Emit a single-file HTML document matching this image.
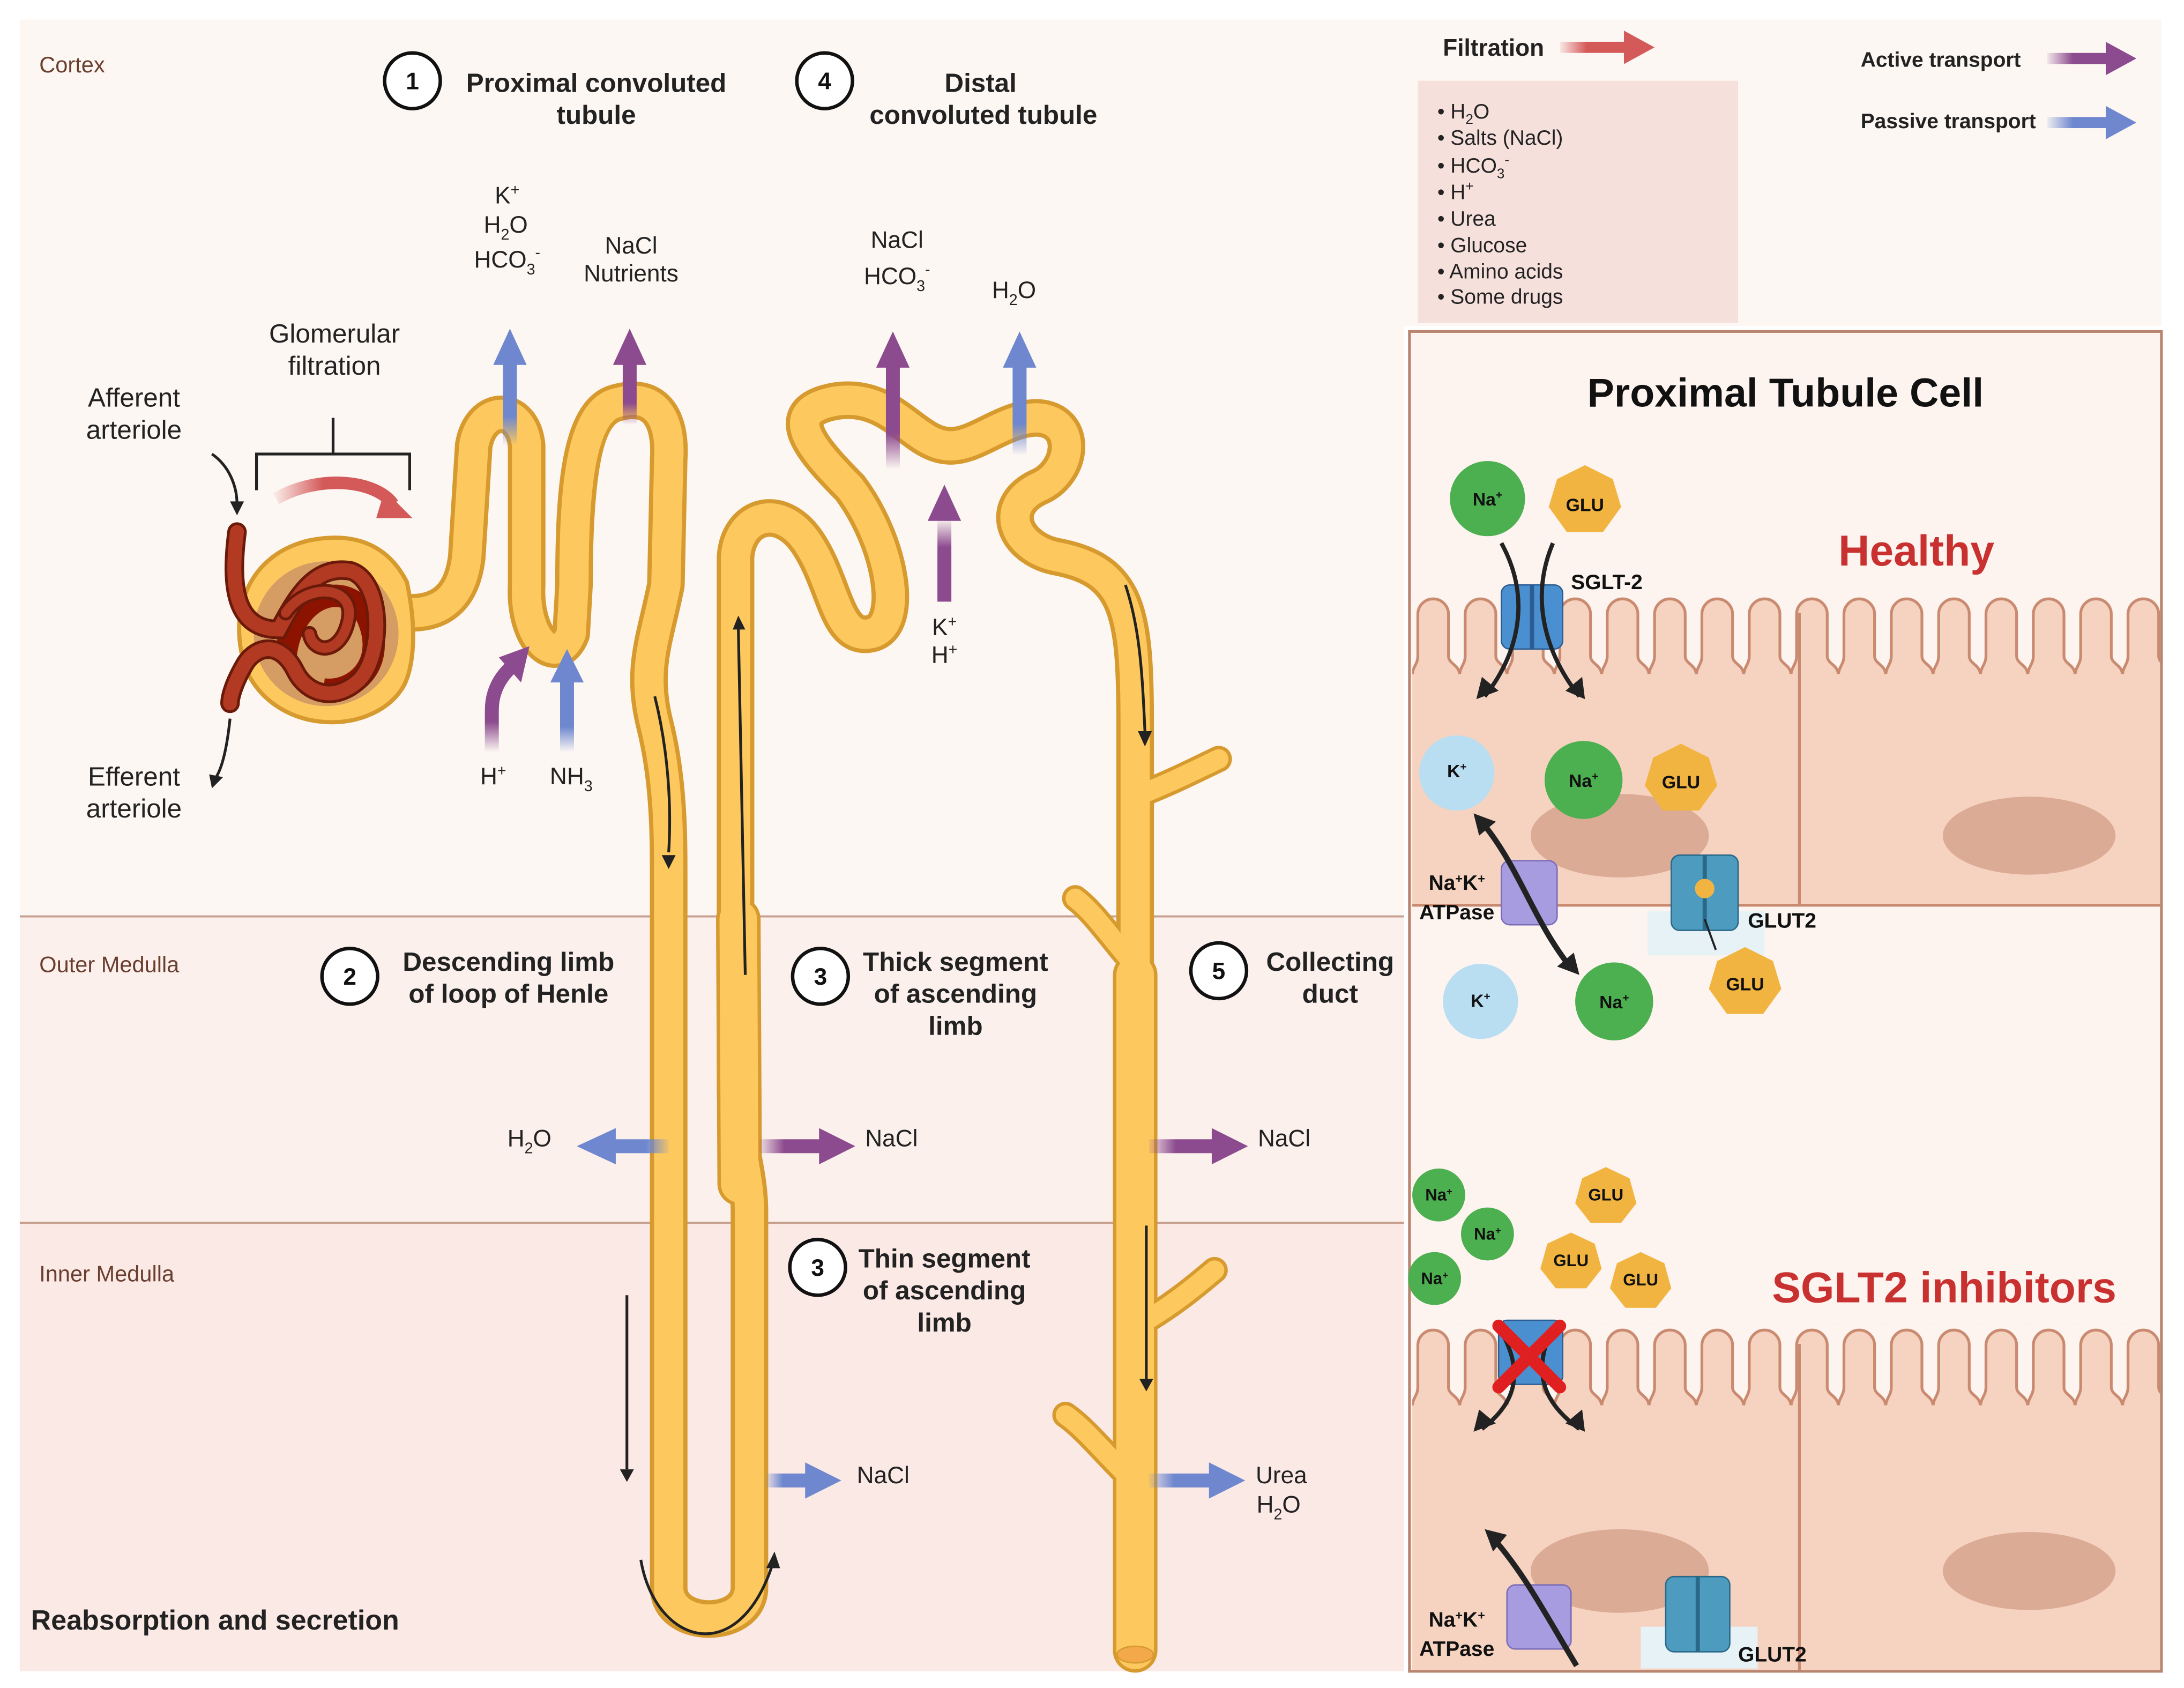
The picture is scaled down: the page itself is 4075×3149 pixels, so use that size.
<!DOCTYPE html>
<html><head><meta charset="utf-8"><style>
html,body{margin:0;padding:0;background:#fff;}
svg{display:block;}
text{font-family:"Liberation Sans",sans-serif;}
</style></head><body>
<svg width="4075" height="3149" viewBox="0 0 1568 1212" xmlns="http://www.w3.org/2000/svg">
<defs>
<linearGradient id="gb" x1="0" y1="1" x2="0" y2="0"><stop offset="0" stop-color="#6e87cf" stop-opacity="0"/><stop offset="0.35" stop-color="#6e87cf"/></linearGradient>
<linearGradient id="gp" x1="0" y1="1" x2="0" y2="0"><stop offset="0" stop-color="#8c4b8e" stop-opacity="0"/><stop offset="0.35" stop-color="#8c4b8e"/></linearGradient>
<linearGradient id="gbh" x1="0" y1="0" x2="1" y2="0"><stop offset="0" stop-color="#6e87cf" stop-opacity="0.1"/><stop offset="0.4" stop-color="#6e87cf"/></linearGradient>
<linearGradient id="gbl" x1="1" y1="0" x2="0" y2="0"><stop offset="0" stop-color="#6e87cf" stop-opacity="0.1"/><stop offset="0.4" stop-color="#6e87cf"/></linearGradient>
<linearGradient id="gph" x1="0" y1="0" x2="1" y2="0"><stop offset="0" stop-color="#8c4b8e" stop-opacity="0.1"/><stop offset="0.4" stop-color="#8c4b8e"/></linearGradient>
<linearGradient id="grh" x1="0" y1="0" x2="1" y2="0"><stop offset="0" stop-color="#d45a5a" stop-opacity="0.1"/><stop offset="0.4" stop-color="#d45a5a"/></linearGradient>
<pattern id="mv" x="1014" y="425" width="34" height="60" patternUnits="userSpaceOnUse">
<path d="M0 60 C0 54 4 52 4 46 V16 a11 11 0 0 1 22 0 V46 C26 52 34 52 34 60 Z" fill="#f5d3c0"/>
<path d="M0 60 C0 54 4 52 4 46 V16 a11 11 0 0 1 22 0 V46 C26 52 34 52 34 60" fill="none" stroke="#c98a70" stroke-width="2"/>
</pattern>
<pattern id="mv2" x="1014" y="950" width="34" height="60" patternUnits="userSpaceOnUse">
<path d="M0 60 C0 54 4 52 4 46 V16 a11 11 0 0 1 22 0 V46 C26 52 34 52 34 60 Z" fill="#f5d3c0"/>
<path d="M0 60 C0 54 4 52 4 46 V16 a11 11 0 0 1 22 0 V46 C26 52 34 52 34 60" fill="none" stroke="#c98a70" stroke-width="2"/>
</pattern>
</defs>

<rect x="14" y="14" width="994" height="644" fill="#fdf7f3"/>
<rect x="14" y="658" width="994" height="220" fill="#fbf0ec"/>
<rect x="14" y="878" width="994" height="322" fill="#fbe9e6"/>
<line x1="14" y1="658" x2="1008" y2="658" stroke="#c7a090" stroke-width="1.5"/>
<line x1="14" y1="878" x2="1008" y2="878" stroke="#c7a090" stroke-width="1.5"/>
<text x="28" y="52" font-size="16" fill="#6a3e2e">Cortex</text>
<text x="28" y="698" font-size="16" fill="#6a3e2e">Outer Medulla</text>
<text x="28" y="920" font-size="16" fill="#6a3e2e">Inner Medulla</text>
<text x="22" y="1170" font-size="20" font-weight="bold" fill="#222">Reabsorption and secretion</text>

<rect x="1008" y="14" width="544" height="220" fill="#fdf7f3"/>
<rect x="1018" y="58" width="230" height="174" fill="#f6e0dc"/>
<text x="1036" y="40" font-size="17" font-weight="bold" fill="#222">Filtration</text>
<rect x="1120" y="30" width="48" height="8" fill="url(#grh)"/><polygon points="1166,22 1188,34 1166,46" fill="#d45a5a"/>
<text x="1336" y="48" font-size="15" font-weight="bold" fill="#222">Active transport</text>
<rect x="1470" y="38" width="46" height="8" fill="url(#gph)"/><polygon points="1512,30 1534,42 1512,54" fill="#8c4b8e"/>
<text x="1336" y="92" font-size="15" font-weight="bold" fill="#222">Passive transport</text>
<rect x="1470" y="84" width="46" height="8" fill="url(#gbh)"/><polygon points="1512,76 1534,88 1512,100" fill="#6e87cf"/>
<g font-size="15" fill="#222">
<text x="1032" y="85">• H<tspan font-size="10" dy="4">2</tspan><tspan dy="-4">O</tspan></text>
<text x="1032" y="104">• Salts (NaCl)</text>
<text x="1032" y="124">• HCO<tspan font-size="10" dy="4">3</tspan><tspan font-size="10" dy="-10">-</tspan></text>
<text x="1032" y="143">• H<tspan font-size="10" dy="-6">+</tspan></text>
<text x="1032" y="162">• Urea</text>
<text x="1032" y="181">• Glucose</text>
<text x="1032" y="200">• Amino acids</text>
<text x="1032" y="218">• Some drugs</text>
</g>

<rect x="1012" y="238" width="540" height="962" fill="#fdf4f0" stroke="#b98570" stroke-width="2"/>
<text x="1282" y="292" font-size="29" font-weight="bold" text-anchor="middle" fill="#111">Proximal Tubule Cell</text>
<rect x="1014" y="425" width="537" height="60" fill="url(#mv)"/>
<rect x="1014" y="484" width="537" height="166" fill="#f5d3c0"/>
<line x1="1014" y1="650" x2="1551" y2="650" stroke="#c98a70" stroke-width="2"/>
<line x1="1292" y1="440" x2="1292" y2="650" stroke="#c98a70" stroke-width="2"/>
<ellipse cx="1163" cy="600" rx="64" ry="30" fill="#dcab95"/>
<ellipse cx="1457" cy="600" rx="62" ry="28" fill="#dcab95"/>
<rect x="1014" y="950" width="537" height="60" fill="url(#mv2)"/>
<rect x="1014" y="1009" width="537" height="190" fill="#f5d3c0"/>
<line x1="1292" y1="965" x2="1292" y2="1199" stroke="#c98a70" stroke-width="2"/>
<ellipse cx="1163" cy="1128" rx="64" ry="30" fill="#dcab95"/>
<ellipse cx="1457" cy="1128" rx="62" ry="28" fill="#dcab95"/>
<text x="1376" y="406" font-size="31" font-weight="bold" text-anchor="middle" fill="#c8312f">Healthy</text>
<text x="1396" y="935" font-size="31" font-weight="bold" text-anchor="middle" fill="#c8312f">SGLT2 inhibitors</text>

<rect x="1078" y="420" width="44" height="46" rx="6" fill="#4a90d0" stroke="#2c5d92"/>
<line x1="1100" y1="420" x2="1100" y2="466" stroke="#2c5d92" stroke-width="3"/>
<path d="M1078 390 C1100 430 1090 470 1066 500" fill="none" stroke="#222" stroke-width="3"/>
<polygon points="1060,502 1064,486 1076,496" fill="#222"/>
<path d="M1115 390 C1098 430 1110 470 1134 500" fill="none" stroke="#222" stroke-width="3"/>
<polygon points="1138,502 1124,496 1136,486" fill="#222"/>
<rect x="1078" y="618" width="40" height="46" rx="6" fill="#a89ce0" stroke="#7a6cb8"/>
<path d="M1062 588 C1090 620 1100 660 1128 695" fill="none" stroke="#222" stroke-width="4"/>
<polygon points="1134,700 1118,694 1130,684" fill="#222"/><polygon points="1058,584 1074,590 1062,600" fill="#222"/>
<rect x="1183" y="654" width="84" height="32" fill="#e6f2f6"/>
<rect x="1200" y="614" width="48" height="54" rx="6" fill="#4d9cc0" stroke="#2a6888"/>
<line x1="1224" y1="614" x2="1224" y2="668" stroke="#2a6888" stroke-width="3"/>
<circle cx="1224" cy="638" r="7" fill="#f2b440"/>
<path d="M1224 660 L1232 682" stroke="#222" stroke-width="1.5"/>

<rect x="1076" y="948" width="46" height="46" rx="6" fill="#4a90d0" stroke="#2c5d92"/>
<path d="M1080 960 C1095 990 1085 1010 1064 1026" fill="none" stroke="#222" stroke-width="3"/>
<polygon points="1058,1028 1062,1012 1074,1022" fill="#222"/>
<path d="M1112 960 C1100 990 1112 1010 1134 1026" fill="none" stroke="#222" stroke-width="3"/>
<polygon points="1138,1028 1124,1022 1136,1012" fill="#222"/>
<path d="M1076 952 L1120 996 M1120 952 L1076 996" stroke="#e02020" stroke-width="9" stroke-linecap="round"/>
<rect x="1082" y="1138" width="46" height="46" rx="6" fill="#a89ce0" stroke="#7a6cb8"/>
<path d="M1070 1102 C1095 1130 1110 1160 1132 1196" fill="none" stroke="#222" stroke-width="4"/>
<polygon points="1066,1098 1082,1102 1072,1114" fill="#222"/>
<rect x="1178" y="1168" width="84" height="30" fill="#e6f2f6"/>
<rect x="1196" y="1132" width="46" height="54" rx="6" fill="#4d9cc0" stroke="#2a6888"/>
<line x1="1219" y1="1132" x2="1219" y2="1186" stroke="#2a6888" stroke-width="3"/>

<g font-size="13" font-weight="bold" text-anchor="middle" fill="#111">
<circle cx="1068" cy="358" r="27" fill="#4caf50"/><text x="1068" y="363">Na<tspan font-size="8" dy="-5">+</tspan></text>
<polygon points="1138,334 1158,344 1164,364 1151,382 1125,382 1112,364 1118,344" fill="#f2b440"/><text x="1138" y="367">GLU</text>
<circle cx="1046" cy="555" r="27" fill="#b9def2"/><text x="1046" y="558">K<tspan font-size="8" dy="-5">+</tspan></text>
<circle cx="1137" cy="560" r="28" fill="#4caf50"/><text x="1137" y="565">Na<tspan font-size="8" dy="-5">+</tspan></text>
<polygon points="1207,534 1227,544 1233,564 1220,582 1194,582 1181,564 1187,544" fill="#f2b440"/><text x="1207" y="566">GLU</text>
<circle cx="1063" cy="719" r="27" fill="#b9def2"/><text x="1063" y="723">K<tspan font-size="8" dy="-5">+</tspan></text>
<circle cx="1159" cy="719" r="28" fill="#4caf50"/><text x="1159" y="724">Na<tspan font-size="8" dy="-5">+</tspan></text>
<polygon points="1253,680 1273,690 1279,710 1266,728 1240,728 1227,710 1233,690" fill="#f2b440"/><text x="1253" y="711">GLU</text>
<text x="1128" y="423" text-anchor="start" font-size="15">SGLT-2</text>
<text x="1255" y="666" text-anchor="start" font-size="15">GLUT2</text>
<text x="1046" y="639" font-size="15">Na<tspan font-size="9" dy="-5">+</tspan><tspan dy="5">K</tspan><tspan font-size="9" dy="-5">+</tspan></text>
<text x="1046" y="660" font-size="15">ATPase</text>
</g>
<g font-size="12" font-weight="bold" text-anchor="middle" fill="#111">
<circle cx="1033" cy="858" r="19" fill="#4caf50"/><text x="1033" y="862">Na<tspan font-size="7" dy="-4">+</tspan></text>
<circle cx="1068" cy="886" r="19" fill="#4caf50"/><text x="1068" y="890">Na<tspan font-size="7" dy="-4">+</tspan></text>
<circle cx="1030" cy="918" r="19" fill="#4caf50"/><text x="1030" y="922">Na<tspan font-size="7" dy="-4">+</tspan></text>
<polygon points="1153,838 1170,846 1175,864 1164,878 1142,878 1131,864 1136,846" fill="#f2b440"/><text x="1153" y="862">GLU</text>
<polygon points="1128,885 1145,893 1150,911 1139,925 1117,925 1106,911 1111,893" fill="#f2b440"/><text x="1128" y="909">GLU</text>
<polygon points="1178,899 1195,907 1200,925 1189,939 1167,939 1156,925 1161,907" fill="#f2b440"/><text x="1178" y="923">GLU</text>
<text x="1046" y="1168" font-size="15">Na<tspan font-size="9" dy="-5">+</tspan><tspan dy="5">K</tspan><tspan font-size="9" dy="-5">+</tspan></text>
<text x="1046" y="1189" font-size="15">ATPase</text>
<text x="1248" y="1193" text-anchor="start" font-size="15">GLUT2</text>
</g>

<g fill="none" stroke-linecap="round" stroke-linejoin="round">
<g stroke="#d69a2e">
<path d="M820 570 C845 560 860 552 875 545 M812 690 C795 670 785 655 772 645 M820 950 C845 935 860 922 872 912 M810 1060 C790 1040 778 1025 765 1016" stroke-width="19"/>
<path d="M295 440 C320 440 332 425 335 400 L340 320 C345 290 375 290 378 320 L378 420 C376 460 400 480 410 455 L412 420 C412 360 415 300 440 290 C470 280 482 300 480 330 L478 420 C470 460 460 480 470 520 C480 560 480 600 480 630 L480 1140 C480 1170 538 1170 538 1140 L538 870 C538 840 528 820 528 780 L528 400 C530 370 560 360 580 390 C600 420 600 460 625 455 C650 450 640 390 610 350 C580 320 560 295 600 288 C640 282 655 318 680 320 C700 322 720 300 745 300 C775 302 770 340 745 350 C715 365 730 395 760 400 C810 410 815 440 815 520 L815 1185" stroke-width="27"/>
<path d="M815 700 L815 1185" stroke-width="32"/>
<path d="M530 660 L531 850" stroke-width="32"/>
</g>
<g stroke="#fdc95e">
<path d="M820 570 C845 560 860 552 875 545 M812 690 C795 670 785 655 772 645 M820 950 C845 935 860 922 872 912 M810 1060 C790 1040 778 1025 765 1016" stroke-width="14"/>
<path d="M295 440 C320 440 332 425 335 400 L340 320 C345 290 375 290 378 320 L378 420 C376 460 400 480 410 455 L412 420 C412 360 415 300 440 290 C470 280 482 300 480 330 L478 420 C470 460 460 480 470 520 C480 560 480 600 480 630 L480 1140 C480 1170 538 1170 538 1140 L538 870 C538 840 528 820 528 780 L528 400 C530 370 560 360 580 390 C600 420 600 460 625 455 C650 450 640 390 610 350 C580 320 560 295 600 288 C640 282 655 318 680 320 C700 322 720 300 745 300 C775 302 770 340 745 350 C715 365 730 395 760 400 C810 410 815 440 815 520 L815 1185" stroke-width="21"/>
<path d="M815 700 L815 1185" stroke-width="27"/>
<path d="M530 660 L531 850" stroke-width="27"/>
</g>
</g>
<ellipse cx="815" cy="1188" rx="13" ry="6" fill="#f3a84a" stroke="#d69a2e"/>
<g stroke="#222" stroke-width="2" fill="none">
<path d="M470 500 C480 540 482 580 480 612"/><path d="M535 700 L530 450"/><path d="M808 420 C818 450 820 480 822 525"/>
<path d="M450 930 L450 1055"/><path d="M823 880 L823 990"/>
<path d="M460 1120 C470 1180 530 1200 555 1122"/>
</g>
<g fill="#222"><polygon points="475,614 485,614 480,624"/><polygon points="526,452 535,452 530,442"/><polygon points="817,525 827,525 822,536"/><polygon points="445,1055 455,1055 450,1064"/><polygon points="818,990 828,990 823,999"/><polygon points="550,1126 560,1126 556,1114"/></g>

<path d="M292 418 C300 455 296 480 290 492 C270 528 200 530 177 482 C162 440 178 398 222 388 C262 380 282 398 292 418 Z" fill="#fdc95e" stroke="#d69a2e" stroke-width="3"/>
<circle cx="234" cy="455" r="52" fill="#d59c63"/>
<path d="M205 470 C210 430 245 415 262 440 C280 475 255 498 232 495" fill="none" stroke="#8b1300" stroke-width="16"/>
<g fill="none" stroke-linecap="round">
<path d="M170 382 C165 420 168 452 200 452 C212 430 225 405 252 410 C275 418 275 470 258 488 C240 505 220 498 212 482 C200 458 182 465 175 478 C168 490 165 500 165 505" stroke="#6b1a0a" stroke-width="14"/>
<path d="M170 382 C165 420 168 452 200 452 C212 430 225 405 252 410 C275 418 275 470 258 488 C240 505 220 498 212 482 C200 458 182 465 175 478 C168 490 165 500 165 505" stroke="#b23a22" stroke-width="10"/>
<path d="M205 440 C220 418 255 420 250 445 C245 470 225 470 222 455" stroke="#6b1a0a" stroke-width="11"/>
<path d="M205 440 C220 418 255 420 250 445 C245 470 225 470 222 455" stroke="#b23a22" stroke-width="7"/>
</g>
<path d="M184 352 V326 H294 V352 M239 326 V300" fill="none" stroke="#222" stroke-width="2"/>
<path d="M198 358 C230 340 270 345 282 362" fill="none" stroke="url(#grh)" stroke-width="9"/>
<polygon points="276,352 296,372 270,372" fill="#d45a5a"/>
<path d="M152 326 C165 335 170 350 170 362" fill="none" stroke="#222" stroke-width="2"/><polygon points="165,360 175,360 170,370" fill="#222"/>
<path d="M165 516 C163 535 160 550 155 558" fill="none" stroke="#222" stroke-width="2"/><polygon points="150,556 160,558 152,566" fill="#222"/>
<g font-size="19" fill="#222" text-anchor="middle">
<text x="96" y="292">Afferent</text><text x="96" y="315">arteriole</text>
<text x="96" y="564">Efferent</text><text x="96" y="587">arteriole</text>
<text x="240" y="246">Glomerular</text><text x="240" y="269">filtration</text>
</g>

<rect x="361" y="260" width="10" height="60" fill="url(#gb)"/><polygon points="354,262 378,262 366,236" fill="#6e87cf"/>
<rect x="447" y="260" width="10" height="45" fill="url(#gp)"/><polygon points="440,262 464,262 452,236" fill="#8c4b8e"/>
<rect x="636" y="262" width="10" height="75" fill="url(#gp)"/><polygon points="629,264 653,264 641,238" fill="#8c4b8e"/>
<rect x="727" y="262" width="10" height="65" fill="url(#gb)"/><polygon points="720,264 744,264 732,238" fill="#6e87cf"/>
<rect x="673" y="372" width="10" height="60" fill="url(#gp)" transform="rotate(180 678 402)"/><polygon points="666,374 690,374 678,348" fill="#8c4b8e"/>
<rect x="402" y="488" width="10" height="52" fill="url(#gb)"/><polygon points="395,490 419,490 407,466" fill="#6e87cf"/>
<path d="M353 540 L353 510 C353 495 360 485 368 478" fill="none" stroke="url(#gp)" stroke-width="10"/>
<polygon points="358,472 380,464 374,490" fill="#8c4b8e"/>
<rect x="440" y="818" width="40" height="10" fill="url(#gbl)"/><polygon points="442,810 442,836 414,823" fill="#6e87cf"/>
<rect x="545" y="818" width="45" height="10" fill="url(#gph)"/><polygon points="588,810 588,836 614,823" fill="#8c4b8e"/>
<rect x="825" y="818" width="48" height="10" fill="url(#gph)"/><polygon points="870,810 870,836 896,823" fill="#8c4b8e"/>
<rect x="550" y="1058" width="30" height="10" fill="url(#gbh)"/><polygon points="578,1050 578,1076 604,1063" fill="#6e87cf"/>
<rect x="825" y="1058" width="45" height="10" fill="url(#gbh)"/><polygon points="868,1050 868,1076 894,1063" fill="#6e87cf"/>

<g font-size="17" fill="#222" text-anchor="middle">
<text x="364" y="146">K<tspan font-size="11" dy="-6">+</tspan></text>
<text x="363" y="167">H<tspan font-size="11" dy="5">2</tspan><tspan dy="-5">O</tspan></text>
<text x="364" y="192">HCO<tspan font-size="11" dy="5">3</tspan><tspan font-size="11" dy="-12">-</tspan></text>
<text x="453" y="182">NaCl</text><text x="453" y="202">Nutrients</text>
<text x="644" y="178">NaCl</text>
<text x="644" y="204">HCO<tspan font-size="11" dy="5">3</tspan><tspan font-size="11" dy="-12">-</tspan></text>
<text x="728" y="214">H<tspan font-size="11" dy="5">2</tspan><tspan dy="-5">O</tspan></text>
<text x="678" y="456">K<tspan font-size="11" dy="-6">+</tspan></text>
<text x="678" y="476">H<tspan font-size="11" dy="-6">+</tspan></text>
<text x="354" y="563">H<tspan font-size="11" dy="-6">+</tspan></text>
<text x="410" y="563">NH<tspan font-size="11" dy="5">3</tspan></text>
<text x="380" y="823">H<tspan font-size="11" dy="5">2</tspan><tspan dy="-5">O</tspan></text>
<text x="640" y="823">NaCl</text><text x="922" y="823">NaCl</text>
<text x="634" y="1065">NaCl</text>
<text x="920" y="1065">Urea</text><text x="918" y="1086">H<tspan font-size="11" dy="5">2</tspan><tspan dy="-5">O</tspan></text>
</g>
<g fill="#fff" stroke="#111" stroke-width="2.5">
<circle cx="296" cy="58" r="20"/><circle cx="592" cy="58" r="20"/><circle cx="251" cy="701" r="20"/>
<circle cx="589" cy="701" r="20"/><circle cx="875" cy="697" r="20"/><circle cx="587" cy="910" r="20"/>
</g>
<g font-size="17" font-weight="bold" fill="#111" text-anchor="middle">
<text x="296" y="64">1</text><text x="592" y="64">4</text><text x="251" y="707">2</text>
<text x="589" y="707">3</text><text x="875" y="703">5</text><text x="587" y="916">3</text>
</g>
<g font-size="19" font-weight="bold" fill="#222" text-anchor="middle">
<text x="428" y="66">Proximal convoluted</text><text x="428" y="89">tubule</text>
<text x="704" y="66">Distal</text><text x="706" y="89">convoluted tubule</text>
<text x="365" y="697">Descending limb</text><text x="365" y="720">of loop of Henle</text>
<text x="686" y="697">Thick segment</text><text x="686" y="720">of ascending</text><text x="686" y="743">limb</text>
<text x="955" y="697">Collecting</text><text x="955" y="720">duct</text>
<text x="678" y="910">Thin segment</text><text x="678" y="933">of ascending</text><text x="678" y="956">limb</text>
</g>
</svg>
</body></html>
